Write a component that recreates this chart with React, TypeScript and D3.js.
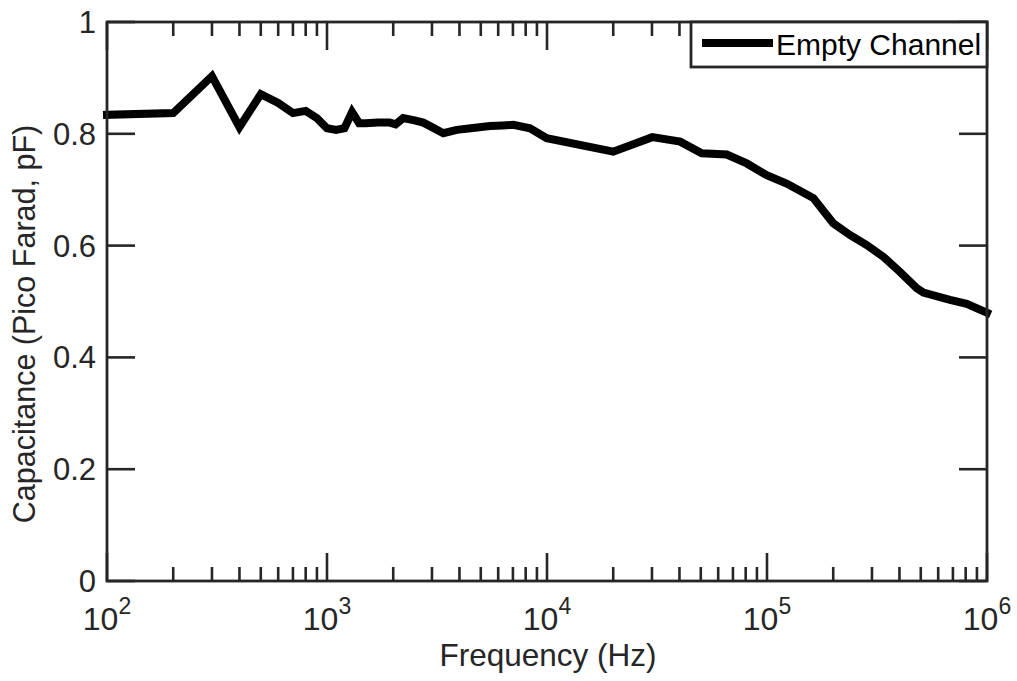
import React from "react";
import * as d3 from "d3";

const freq = [100, 200, 300, 400, 500, 600, 700, 800, 900, 1000, 1100, 1200, 1300, 1400, 1500, 1700, 1930, 2050, 2220, 2500, 2740, 3000, 3380, 3890, 4500, 5510, 6300, 7030, 8370, 9970, 20000, 30100, 40300, 50500, 65600, 80900, 99700, 122800, 162400, 200000, 238000, 284000, 338000, 402000, 479000, 514000, 679000, 809000, 1000000];
const capacitance = [0.834, 0.837, 0.903, 0.812, 0.871, 0.855, 0.837, 0.841, 0.828, 0.810, 0.807, 0.810, 0.839, 0.819, 0.819, 0.820, 0.820, 0.817, 0.828, 0.824, 0.820, 0.812, 0.801, 0.807, 0.810, 0.814, 0.815, 0.816, 0.810, 0.792, 0.768, 0.794, 0.786, 0.765, 0.763, 0.747, 0.726, 0.711, 0.685, 0.640, 0.619, 0.601, 0.580, 0.553, 0.524, 0.516, 0.503, 0.496, 0.480];

const xMajorTicks = [100, 1000, 10000, 100000, 1000000];
const xTickExponents = ["2", "3", "4", "5", "6"];
const yTicks = [0, 0.2, 0.4, 0.6, 0.8, 1];
const yTickLabels = ["0", "0.2", "0.4", "0.6", "0.8", "1"];
const seriesName = "Empty Channel";
const xLabel = "Frequency (Hz)";
const yLabel = "Capacitance (Pico Farad, pF)";

const W = 1017, H = 681;
const L = 107, R = 987, T = 22, B = 581;
const AX = "#262626";
const FONT = "'Liberation Sans', Arial, Helvetica, sans-serif";

export default function App() {
  const x = d3.scaleLog().domain([100, 1e6]).range([L, R]);
  const y = d3.scaleLinear().domain([0, 1]).range([B, T]);

  const minor: number[] = [];
  for (let d = 100; d < 1e6; d *= 10) {
    for (let k = 2; k <= 9; k++) minor.push(d * k);
  }

  const line = d3.line<number>()
    .x((_, i) => x(freq[i]))
    .y((v) => y(v));
  const pathD = line(capacitance) || "";

  const majLen = 28, minLen = 14;

  return (
    <svg width={W} height={H} style={{ position: "absolute", left: 0, top: 0, background: "#fff" }} fontFamily={FONT}>
      <rect x={0} y={0} width={W} height={H} fill="#fff" />
      {/* ticks */}
      <g stroke={AX} strokeWidth={2.6}>
        {minor.map((m) => (
          <g key={"m" + m}>
            <line x1={x(m)} x2={x(m)} y1={B} y2={B - minLen} />
            <line x1={x(m)} x2={x(m)} y1={T} y2={T + minLen} />
          </g>
        ))}
        {xMajorTicks.map((m) => (
          <g key={"M" + m}>
            <line x1={x(m)} x2={x(m)} y1={B} y2={B - majLen} />
            <line x1={x(m)} x2={x(m)} y1={T} y2={T + majLen} />
          </g>
        ))}
        {yTicks.map((t) => (
          <g key={"y" + t}>
            <line x1={L} x2={L + majLen} y1={y(t)} y2={y(t)} />
            <line x1={R} x2={R - majLen} y1={y(t)} y2={y(t)} />
          </g>
        ))}
      </g>
      {/* data */}
      <path d={pathD} fill="none" stroke="#000" strokeWidth={8} strokeLinejoin="miter" strokeMiterlimit={4} strokeLinecap="square" />
      {/* box */}
      <rect x={L} y={T} width={R - L} height={B - T} fill="none" stroke={AX} strokeWidth={2.8} />
      {/* x tick labels */}
      {xMajorTicks.map((m, i) => (
        <text key={"xl" + m} x={x(m)} y={630} textAnchor="middle" fontSize={32} fill={AX}>
          10<tspan dy={-16} fontSize={23}>{xTickExponents[i]}</tspan>
        </text>
      ))}
      {/* y tick labels */}
      {yTicks.map((t, i) => (
        <text key={"yl" + t} x={96} y={y(t) + 11} textAnchor="end" fontSize={31} fill={AX}>
          {yTickLabels[i]}
        </text>
      ))}
      <text x={(L + R) / 2 + 1} y={665.5} textAnchor="middle" fontSize={31.5} fill={AX}>{xLabel}</text>
      <text transform={`translate(35,324) rotate(-90)`} textAnchor="middle" fontSize={30.5} fill={AX}>{yLabel}</text>
      {/* legend */}
      <rect x={691} y={T} width={R - 691} height={45} fill="#fff" stroke={AX} strokeWidth={2.8} />
      <line x1={702} x2={773} y1={43} y2={43} stroke="#000" strokeWidth={8} />
      <text x={776} y={55} fontSize={30} fill="#000">{seriesName}</text>
    </svg>
  );
}
